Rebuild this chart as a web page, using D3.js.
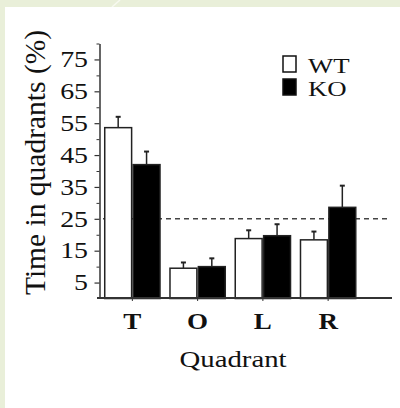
<!DOCTYPE html>
<html>
<head>
<meta charset="utf-8">
<script src="https://cdn.jsdelivr.net/npm/d3@7"></script>
<style>
  body { margin: 0; }
  svg { display: block; }
  text { font-family: "Liberation Serif", "Times New Roman", serif; fill: #111; }
</style>
</head>
<body>
<svg width="400" height="408"></svg>
<script>
const quadrants = ['T', 'O', 'L', 'R']
const groups = ['WT', 'KO']
const wtMean = [53.6, 9.5, 18.8, 18.4]
const wtErr = [3.4, 1.8, 2.6, 2.6]
const koMean = [42.0, 10.0, 19.7, 28.6]
const koErr = [4.1, 2.6, 3.6, 6.8]
const majorTicks = [5, 15, 25, 35, 45, 55, 65, 75]
const minorTicks = [10, 20, 30, 40, 50, 60, 70, 80]
const chance = 25

const rows = quadrants.map((q, i) => ({
  q,
  vals: [
    { g: 'WT', v: wtMean[i], e: wtErr[i] },
    { g: 'KO', v: koMean[i], e: koErr[i] }
  ]
}))

const svg = d3.select('svg')
svg.append('rect').attr('width', 400).attr('height', 408).attr('fill', '#e9efd9')
svg.append('line')
   .attr('x1', 112).attr('y1', 7).attr('x2', 120).attr('y2', 0)
   .attr('stroke', '#f7f9f0').attr('stroke-width', 1.5)
svg.append('rect').attr('x', 5).attr('y', 7).attr('width', 395).attr('height', 401).attr('fill', '#fff')

const x = d3.scaleBand()
            .domain(quadrants)
            .range([95.5, 365])
            .paddingInner(0.13)
            .paddingOuter(0.13)
const xSub = d3.scaleBand()
               .domain(groups)
               .range([0, x.bandwidth()])
const y = d3.scaleLinear()
            .domain([0, 80])
            .range([298.5, 43.5])

const axisColor = '#333'

// chance level
svg.append('line')
   .attr('x1', 103).attr('x2', 391)
   .attr('y1', y(chance)).attr('y2', y(chance))
   .attr('stroke', '#444').attr('stroke-width', 1.5)
   .attr('stroke-dasharray', '5,4')

const grp = svg.selectAll('.grp')
  .data(rows)
  .enter()
  .append('g')
  .attr('transform', d => `translate(${x(d.q)},0)`)

// error bars (only upward part shows)
grp.selectAll('.err')
  .data(d => d.vals)
  .enter()
  .append('g')
  .each(function (d) {
    const cx = xSub(d.g) + xSub.bandwidth() / 2
    const g = d3.select(this)
    g.append('line')
     .attr('x1', cx).attr('x2', cx)
     .attr('y1', y(d.v)).attr('y2', y(d.v + d.e))
     .attr('stroke', '#222').attr('stroke-width', 1.5)
    g.append('line')
     .attr('x1', cx - 2.5).attr('x2', cx + 2.5)
     .attr('y1', y(d.v + d.e)).attr('y2', y(d.v + d.e))
     .attr('stroke', '#222').attr('stroke-width', 2)
  })

grp.selectAll('.bar')
  .data(d => d.vals)
  .enter()
  .append('rect')
  .attr('x', d => xSub(d.g) + 0.75)
  .attr('width', xSub.bandwidth() - 1.5)
  .attr('y', d => y(d.v))
  .attr('height', d => y(0) - y(d.v))
  .attr('fill', d => d.g === 'WT' ? '#fff' : '#000')
  .attr('stroke', '#222')
  .attr('stroke-width', 1.5)

// y axis
const yAxis = svg.append('g')
  .attr('transform', 'translate(99.5,0)')
  .call(d3.axisLeft(y).tickValues(majorTicks).tickSize(5).tickSizeOuter(0))
yAxis.select('.domain').attr('stroke', axisColor).attr('stroke-width', 1.5)
yAxis.selectAll('.tick line').attr('stroke', axisColor).attr('stroke-width', 1.2)
yAxis.selectAll('.tick text')
  .attr('font-family', '"Liberation Serif", serif')
  .attr('font-size', 22.5)
  .attr('fill', '#111')
  .attr('x', -11.5 / 1.24)
  .attr('transform', 'scale(1.24,1)')

svg.append('g')
  .attr('transform', 'translate(99.5,0)')
  .call(d3.axisLeft(y).tickValues(minorTicks).tickSize(3).tickFormat(''))
  .call(g => g.select('.domain').remove())
  .selectAll('.tick line').attr('stroke', axisColor).attr('stroke-width', 1)

// x axis
const xAxis = svg.append('g')
  .attr('transform', `translate(0,${y(0) - 0.5})`)
  .call(d3.axisBottom(x).tickSize(3).tickSizeOuter(0).tickPadding(11))
xAxis.select('.domain').remove()
xAxis.append('line')
  .attr('x1', 97).attr('x2', 392)
  .attr('stroke', axisColor).attr('stroke-width', 1.8)
xAxis.selectAll('.tick line').attr('stroke', axisColor).attr('stroke-width', 1)
xAxis.selectAll('.tick text')
  .attr('font-family', '"Liberation Serif", serif')
  .attr('font-size', 23.5)
  .attr('font-weight', 'bold')
  .attr('fill', '#111')
  .attr('transform', 'scale(1.15,1)')

// axis titles
svg.append('text')
  .attr('transform', 'translate(45,162.5) rotate(-90)')
  .attr('text-anchor', 'middle')
  .attr('font-size', 29.5)
  .text('Time in quadrants (%)')

svg.append('text')
  .attr('transform', 'translate(233,367) scale(1.2,1)')
  .attr('text-anchor', 'middle')
  .attr('font-size', 24)
  .text('Quadrant')

// legend
const legend = svg.append('g').attr('transform', 'translate(283,56)')
const li = legend.selectAll('g')
  .data(groups)
  .enter()
  .append('g')
  .attr('transform', (d, i) => `translate(0,${i * 23})`)
li.append('rect')
  .attr('width', 13).attr('height', 16)
  .attr('fill', d => d === 'WT' ? '#fff' : '#000')
  .attr('stroke', '#111').attr('stroke-width', 1.5)
li.append('text')
  .attr('transform', 'translate(25,17) scale(1.22,1)')
  .attr('font-size', 22)
  .text(d => d)
</script>
</body>
</html>
